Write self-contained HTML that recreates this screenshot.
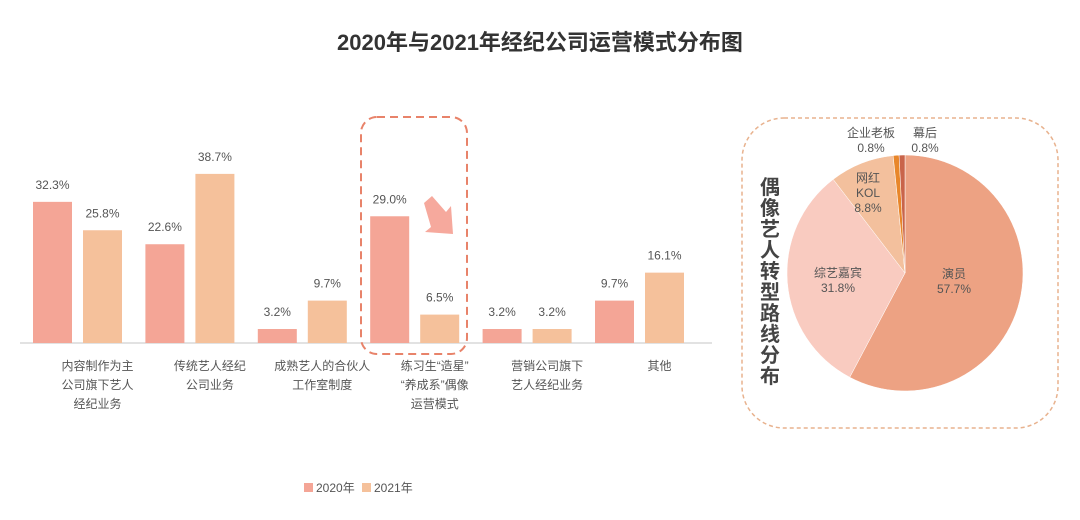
<!DOCTYPE html>
<html><head><meta charset="utf-8"><style>
body{margin:0;background:#fff;font-family:"Liberation Sans","Noto Sans CJK SC",sans-serif;}
svg text{font-family:"Liberation Sans","Noto Sans CJK SC",sans-serif;}
</style></head><body>
<svg id="c" width="1080" height="515" viewBox="0 0 1080 515">
<text x="540" y="50" text-anchor="middle" font-size="22" font-weight="bold" fill="#333">2020年与2021年经纪公司运营模式分布图</text>
<line x1="20" y1="343" x2="712" y2="343" stroke="#d9d9d9" stroke-width="1.5"/>
<g id="bars"></g>
<rect x="361" y="117" width="106" height="237" rx="16" fill="none" stroke="#e8836a" stroke-width="2" stroke-dasharray="8,5"/>
<path d="M424 203 L432 196 L446 212 L451 206 L453 234 L425 232 L431 227 Z" fill="#f59a8c" opacity="0.85"/>
<g>
<rect x="304" y="483" width="9" height="9" fill="#f4a596"/>
<text x="316" y="492" font-size="12" fill="#555">2020年</text>
<rect x="362" y="483" width="9" height="9" fill="#f5c19b"/>
<text x="374" y="492" font-size="12" fill="#555">2021年</text>
</g>
<rect x="742" y="118" width="316" height="310" rx="42" fill="none" stroke="#e8b28e" stroke-width="1.5" stroke-dasharray="4,3"/>
<text font-size="20" font-weight="bold" fill="#444">
<tspan x="760" y="194">偶</tspan><tspan x="760" y="215">像</tspan><tspan x="760" y="236">艺</tspan><tspan x="760" y="257">人</tspan><tspan x="760" y="278">转</tspan><tspan x="760" y="299">型</tspan><tspan x="760" y="320">路</tspan><tspan x="760" y="341">线</tspan><tspan x="760" y="362">分</tspan><tspan x="760" y="383">布</tspan></text>
<g id="pie"></g>
</svg>
<script>
const categories=[["内容制作为主","公司旗下艺人","经纪业务"],["传统艺人经纪","公司业务"],["成熟艺人的合伙人","工作室制度"],["练习生“造星”","“养成系”偶像","运营模式"],["营销公司旗下","艺人经纪业务"],["其他"]];
const values2020=[32.3,22.6,3.2,29.0,3.2,9.7];
const values2021=[25.8,38.7,9.7,6.5,3.2,16.1];
const pieLabels=["演员","综艺嘉宾","网红 KOL","企业老板","幕后"];
const pieValues=[57.7,31.8,8.8,0.8,0.8];
const NS="http://www.w3.org/2000/svg";
const base=343,k=4.37,gx0=33,gstep=112.4,bw=39;
const y=v=>base-v*k;
const bars=document.getElementById('bars');
function mk(t,a,p){const e=document.createElementNS(NS,t);for(const q in a)e.setAttribute(q,a[q]);p.appendChild(e);return e;}
categories.forEach((c,i)=>{
  const x=gx0+i*gstep;
  [[values2020[i],"#f4a596",x,"2020"],[values2021[i],"#f5c19b",x+50,"2021"]].forEach(([v,col,bx,yr])=>{
    const r=mk('rect',{x:bx,y:y(v),width:bw,height:v*k,fill:col},bars);
    
    
    const t=mk('text',{x:bx+bw/2,y:y(v)-13,'text-anchor':'middle','font-size':'12',fill:'#555'},bars);
    t.textContent=v.toFixed(1)+'%';
    
    
  });
  const t=mk('text',{'text-anchor':'middle','font-size':'12',fill:'#555'},bars);
  
  
  c.forEach((s,j)=>{const ts=mk('tspan',{x:x+64.5,y:370+j*19},t);ts.textContent=s;});
});
const pie=document.getElementById('pie');
const cx=905,cy=273,R=118,cols=["#eda283","#f9cbc0","#f3c09d","#e8862a","#c9644a"];
const tot=pieValues.reduce((a,b)=>a+b,0);
let a0=0;
pieValues.forEach((v,i)=>{
  const a1=a0+v/tot*2*Math.PI;
  const p=(a)=>[cx+R*Math.sin(a),cy-R*Math.cos(a)];
  const [x0,y0]=p(a0),[x1,y1]=p(a1);
  const s=mk('path',{d:`M${cx},${cy}L${x0},${y0}A${R},${R} 0 ${a1-a0>Math.PI?1:0} 1 ${x1},${y1}Z`,fill:cols[i],stroke:'#fff','stroke-width':'0.5'},pie);
  
  
  a0=a1;
});
function lab(lines,x,yy,n){const t=mk('text',{'text-anchor':'middle','font-size':'12',fill:'#555'},pie);
  
  
  lines.forEach((s,j)=>{const ts=mk('tspan',{x:x,y:yy+j*15},t);ts.textContent=s;});}
lab([pieLabels[0],pieValues[0]+'%'],954,278,'pie-label-actor');
lab([pieLabels[1],pieValues[1]+'%'],838,277,'pie-label-variety');
lab(["网红","KOL",pieValues[2]+'%'],868,182,'pie-label-kol');
lab([pieLabels[3],pieValues[3]+'%'],871,137,'pie-label-boss');
lab([pieLabels[4],pieValues[4]+'%'],925,137,'pie-label-backstage');
</script>
</body></html>
